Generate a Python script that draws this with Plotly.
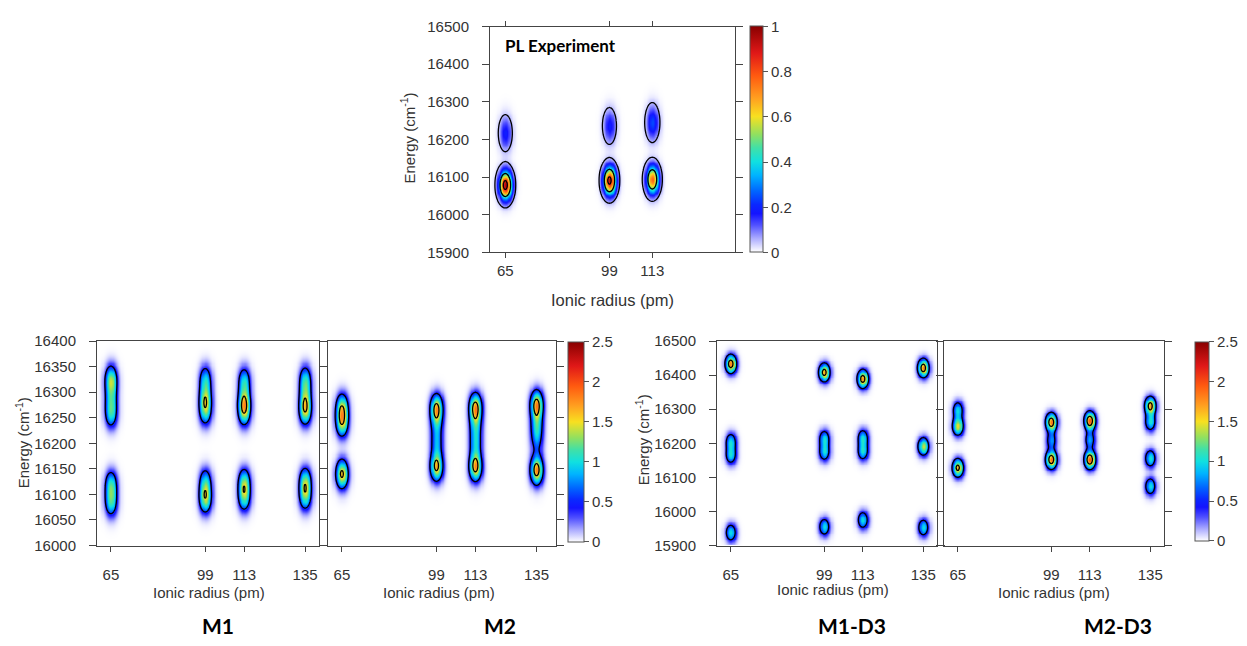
import numpy as np
import plotly.graph_objects as go

W, H = 1247, 646

# ---------------- data ----------------
# PL experiment: ionic radius (pm), energy (cm-1), normalised intensity, energy broadening (cm-1)
PL_RADIUS = [65, 65, 99, 99, 113, 113]
PL_ENERGY = [16079, 16217, 16091, 16236, 16094, 16245]
PL_INTENSITY = [0.95, 0.19, 0.92, 0.19, 0.76, 0.24]
PL_BROADENING = [25, 30, 25, 30, 25, 30]

# M1
M1_RADIUS = [65, 65, 65, 65, 65,
             99, 99, 99, 99, 99,
             113, 113, 113, 113, 113,
             135, 135, 135, 135, 135]
M1_ENERGY = [16258, 16290, 16325, 16085, 16120,
             16262, 16288, 16325, 16092, 16125,
             16260, 16282, 16322, 16095, 16125,
             16264, 16292, 16325, 16097, 16127]
M1_INTENSITY = [0.95, 0.75, 1.25, 1.00, 1.00,
                0.90, 1.05, 0.90, 1.30, 0.88,
                0.95, 1.15, 0.95, 1.05, 1.05,
                1.30, 0.80, 0.95, 1.06, 1.06]

# M2
M2_RADIUS = [65, 65, 65,
             99, 99, 99, 99,
             113, 113, 113, 113,
             135, 135, 135, 135]
M2_ENERGY = [16240, 16270, 16140,
             16268, 16235, 16200, 16155,
             16270, 16235, 16200, 16155,
             16275, 16235, 16205, 16148]
M2_INTENSITY = [1.25, 1.25, 1.60,
                1.65, 0.60, 0.70, 1.65,
                1.70, 0.75, 0.80, 1.75,
                1.75, 0.85, 0.55, 1.80]

# M1-D3
M1D3_RADIUS = [65, 65, 65, 65,
               99, 99, 99, 99,
               113, 113, 113, 113,
               135, 135, 135]
M1D3_ENERGY = [16433, 16165, 16205, 15938,
               16408, 16174, 16214, 15955,
               16389, 16176, 16216, 15975,
               16421, 16191, 15953]
M1D3_INTENSITY = [1.80, 0.95, 0.95, 1.00,
                  1.70, 0.95, 0.95, 1.00,
                  1.75, 0.97, 0.97, 1.00,
                  1.80, 1.40, 1.00]

# M2-D3
M2D3_RADIUS = [65, 65, 65,
               99, 99, 99,
               113, 113, 113,
               135, 135, 135, 135]
M2D3_ENERGY = [16250, 16298, 16128,
               16262, 16208, 16152,
               16266, 16210, 16152,
               16310, 16262, 16156, 16074]
M2D3_INTENSITY = [1.45, 0.95, 1.65,
                  1.85, 0.75, 1.85,
                  1.95, 0.80, 1.95,
                  1.70, 1.00, 1.05, 1.00]

PL_XTICKS = [65, 99, 113]
XTICKS = [65, 99, 113, 135]
PL_YTICKS = list(range(15900, 16501, 100))
M1_YTICKS = list(range(16000, 16401, 50))
D3_YTICKS = list(range(15900, 16501, 100))
PL_CBAR_TICKS = [0, 0.2, 0.4, 0.6, 0.8, 1]
CBAR_TICKS = [0, 0.5, 1, 1.5, 2, 2.5]
PANEL_LABELS = ["M1", "M2", "M1-D3", "M2-D3"]

# ---------------- helpers ----------------
def fx(px):
    return px / W


def fy(py):
    return 1 - py / H


def field(xs, ys, rad, en, amp, sx, sy):
    X, Y = np.meshgrid(xs, ys)
    Z = np.zeros_like(X, dtype=float)
    if np.isscalar(sy):
        sy = [sy] * len(rad)
    for r, e, a, s in zip(rad, en, amp, sy):
        Z += a * np.exp(-((X - r) ** 2 / (2 * sx ** 2) + (Y - e) ** 2 / (2 * s ** 2)))
    return Z


CS = [
    [0.00, '#ffffff'],
    [0.02, '#e4e4ff'],
    [0.06, '#acacff'],
    [0.12, '#5050ff'],
    [0.17, '#1414ff'],
    [0.21, '#0a28ff'],
    [0.27, '#0066ff'],
    [0.34, '#00b4ff'],
    [0.40, '#10e0e0'],
    [0.46, '#40e0a8'],
    [0.52, '#90e060'],
    [0.60, '#f8e020'],
    [0.68, '#ffa020'],
    [0.78, '#ff5a10'],
    [0.88, '#e01818'],
    [1.00, '#880000'],
]

FONT = "Liberation Sans, Arial, sans-serif"
TICKFONT = dict(family=FONT, size=15, color='#333333')
LINEC = '#444444'

fig = go.Figure()

# grids
xs = np.arange(58, 144.01, 0.4)
ys_pl = np.arange(15880, 16520.1, 2.5)
ys_m = np.arange(15980, 16420.1, 2.0)
ys_d = np.arange(15880, 16520.1, 2.5)

panels = [
    dict(ax='x', ay='y', ys=ys_pl, z=field(xs, ys_pl, PL_RADIUS, PL_ENERGY, PL_INTENSITY, 1.4, PL_BROADENING),
         zmax=1.0, cont=dict(start=0.05, end=0.85, size=0.4),
         cbar=dict(x=fx(750), y=fy(134), len=232 / H, thickness=13, tickvals=PL_CBAR_TICKS)),
    dict(ax='x2', ay='y2', ys=ys_m, z=field(xs, ys_m, M1_RADIUS, M1_ENERGY, M1_INTENSITY, 1.5, 19),
         zmax=2.5, cont=dict(start=0.5, end=2.5, size=1.0), cbar=None),
    dict(ax='x3', ay='y3', ys=ys_m, z=field(xs, ys_m, M2_RADIUS, M2_ENERGY, M2_INTENSITY, 1.5, 19),
         zmax=2.5, cont=dict(start=0.5, end=2.5, size=1.0),
         cbar=dict(x=fx(568), y=fy(444.5), len=205 / H, thickness=16, tickvals=CBAR_TICKS)),
    dict(ax='x4', ay='y4', ys=ys_d, z=field(xs, ys_d, M1D3_RADIUS, M1D3_ENERGY, M1D3_INTENSITY, 1.35, 18),
         zmax=2.5, cont=dict(start=0.5, end=2.5, size=1.0), cbar=None),
    dict(ax='x5', ay='y5', ys=ys_d, z=field(xs, ys_d, M2D3_RADIUS, M2D3_ENERGY, M2D3_INTENSITY, 1.35, 18),
         zmax=2.5, cont=dict(start=0.5, end=2.5, size=1.0),
         cbar=dict(x=fx(1195), y=fy(444), len=204 / H, thickness=14, tickvals=CBAR_TICKS)),
]

for p in panels:
    hm = dict(x=xs, y=p['ys'], z=p['z'], colorscale=CS, zmin=0, zmax=p['zmax'],
              zsmooth='best', xaxis=p['ax'], yaxis=p['ay'], hoverinfo='skip')
    if p['cbar'] is not None:
        c = p['cbar']
        hm['colorbar'] = dict(x=c['x'], xanchor='left', xpad=0, y=c['y'], yanchor='middle', ypad=0,
                              len=c['len'], lenmode='fraction', thickness=c['thickness'],
                              thicknessmode='pixels', outlinewidth=1, outlinecolor='#555555',
                              tickvals=c['tickvals'], ticktext=[('%g' % t) for t in c['tickvals']],
                              ticks='outside', ticklen=5, tickcolor='#555555', tickfont=TICKFONT)
        hm['showscale'] = True
    else:
        hm['showscale'] = False
    fig.add_trace(go.Heatmap(**hm))
    cc = p['cont']
    fig.add_trace(go.Contour(x=xs, y=p['ys'], z=p['z'], xaxis=p['ax'], yaxis=p['ay'],
                             autocontour=False,
                             contours=dict(start=cc['start'], end=cc['end'], size=cc['size'],
                                           coloring='none'),
                             line=dict(color='black', width=1.3, smoothing=1),
                             showscale=False, hoverinfo='skip'))


def xaxis(dom, rng, tickvals, mirror, anchor, standoff):
    return dict(domain=dom, range=rng, tickvals=tickvals, ticktext=[str(t) for t in tickvals],
                ticks='outside', ticklen=5, tickcolor=LINEC, showline=True, linecolor=LINEC,
                linewidth=1, mirror=mirror, showgrid=False, zeroline=False, tickfont=TICKFONT,
                anchor=anchor, ticklabelstandoff=standoff, fixedrange=True)


def yaxis(dom, rng, tickvals, showlabels, anchor):
    return dict(domain=dom, range=rng, tickvals=tickvals, ticktext=[str(t) for t in tickvals],
                ticks='outside', ticklen=7, tickcolor=LINEC, showline=True, linecolor=LINEC,
                linewidth=1, mirror='ticks', showgrid=False, zeroline=False, tickfont=TICKFONT,
                showticklabels=showlabels, anchor=anchor, ticklabelstandoff=10, fixedrange=True)


ydom_bottom = [fy(551), fy(341)]
fig.update_layout(
    width=W, height=H, margin=dict(l=0, r=0, t=0, b=0),
    paper_bgcolor='white', plot_bgcolor='white', showlegend=False,
    xaxis=xaxis([fx(490), fx(735)], [60, 140], PL_XTICKS, 'ticks', 'y', 0),
    yaxis=yaxis([fy(250), fy(18)], [15900, 16500], PL_YTICKS, True, 'x'),
    xaxis2=xaxis([fx(97), fx(319)], [60, 140], XTICKS, True, 'y2', 10),
    yaxis2=yaxis(ydom_bottom, [16000, 16400], M1_YTICKS, True, 'x2'),
    xaxis3=xaxis([fx(328), fx(556)], [60, 142], XTICKS, True, 'y3', 10),
    yaxis3=yaxis(ydom_bottom, [16000, 16400], M1_YTICKS, False, 'x3'),
    xaxis4=xaxis([fx(717), fx(937)], [60, 140], XTICKS, True, 'y4', 10),
    yaxis4=yaxis(ydom_bottom, [15900, 16500], D3_YTICKS, True, 'x4'),
    xaxis5=xaxis([fx(944), fx(1164)], [60, 140], XTICKS, True, 'y5', 10),
    yaxis5=yaxis(ydom_bottom, [15900, 16500], D3_YTICKS, False, 'x5'),
)

ann = []
title_font = dict(family=FONT, size=15, color='#333333')
for px, py, size in [(612, 299, 16.5), (209, 599, 15), (439, 599, 15), (833, 596, 15), (1054, 599, 15)]:
    ann.append(dict(text='Ionic radius (pm)', x=fx(px), y=fy(py), xref='paper', yref='paper',
                    showarrow=False, xanchor='center', yanchor='middle',
                    font=dict(family=FONT, size=size, color='#333333')))
for px, py in [(408, 133), (22, 446), (642, 443)]:
    ann.append(dict(text='Energy (cm<sup>-1</sup>)', x=fx(px), y=fy(py), xref='paper', yref='paper',
                    showarrow=False, xanchor='center', yanchor='middle', textangle=-90,
                    font=title_font))
for label, px in zip(PANEL_LABELS, [218, 500, 852, 1118]):
    ann.append(dict(text='<b>%s</b>' % label, x=fx(px), y=fy(633), xref='paper', yref='paper',
                    showarrow=False, xanchor='center', yanchor='middle',
                    font=dict(family='Lato, Open Sans, sans-serif', size=21, color='black')))
ann.append(dict(text='<b>PL Experiment</b>', x=fx(503), y=fy(37), xref='paper', yref='paper',
                showarrow=False, xanchor='left', yanchor='middle',
                font=dict(family='Lato, Open Sans, sans-serif', size=17, color='black')))
fig.update_layout(annotations=ann)

fig.write_html("out.html")
